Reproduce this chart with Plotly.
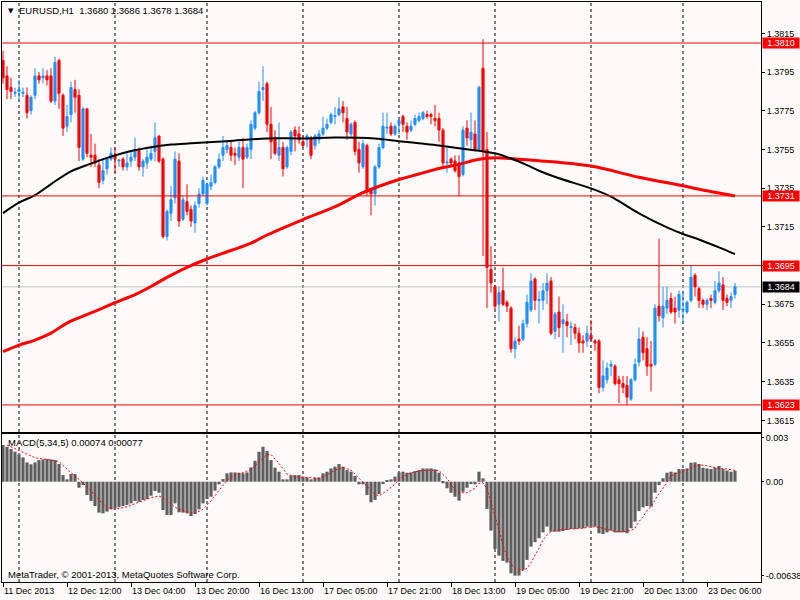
import pandas as pd
import plotly.graph_objects as go

# EURUSD H1, 11-23 Dec 2013
sessions = [("2013-12-11 20:00", "2013-12-13 22:00"),
            ("2013-12-16 00:00", "2013-12-20 22:00"),
            ("2013-12-23 00:00", "2013-12-23 13:00")]
times = pd.DatetimeIndex([t for a, b in sessions for t in pd.date_range(a, b, freq="h")])

opens = [1.3801, 1.3793, 1.3787, 1.3784, 1.3785, 1.3784, 1.3783, 1.3775, 1.3783, 1.3793,
         1.3792, 1.3793, 1.3793, 1.3780, 1.3801, 1.3783, 1.3767, 1.3773, 1.3786, 1.3783,
         1.3750, 1.3776, 1.3752, 1.3752, 1.3747, 1.3739, 1.3745, 1.3750, 1.3752, 1.3749,
         1.3750, 1.3746, 1.3749, 1.3751, 1.3755, 1.3746, 1.3748, 1.3750, 1.3754, 1.3762,
         1.3750, 1.3710, 1.3722, 1.3730, 1.3749, 1.3719, 1.3728, 1.3724, 1.3717, 1.3727,
         1.3732, 1.3727, 1.3736, 1.3738, 1.3746, 1.3752, 1.3755, 1.3756, 1.3753, 1.3751,
         1.3756, 1.3751, 1.3755, 1.3766, 1.3774, 1.3786, 1.3789, 1.3768, 1.3761, 1.3752,
         1.3756, 1.3746, 1.3754, 1.3765, 1.3763, 1.3759, 1.3760, 1.3761, 1.3757, 1.3760,
         1.3763, 1.3766, 1.3769, 1.3772, 1.3773, 1.3777, 1.3771, 1.3763, 1.3769, 1.3755,
         1.3746, 1.3757, 1.3734, 1.3732, 1.3746, 1.3756, 1.3766, 1.3767, 1.3763, 1.3768,
         1.3772, 1.3767, 1.3765, 1.3768, 1.3770, 1.3771, 1.3773, 1.3773, 1.3771, 1.3771,
         1.3765, 1.3748, 1.3750, 1.3749, 1.3748, 1.3742, 1.3766, 1.3760, 1.3763, 1.3755,
         1.3797, 1.3755, 1.3693, 1.3684, 1.3675, 1.3682, 1.3676, 1.3673, 1.3652, 1.3657,
         1.3657, 1.3665, 1.3672, 1.3688, 1.3677, 1.3677, 1.3682, 1.3687, 1.3661, 1.3671,
         1.3665, 1.3666, 1.3663, 1.3663, 1.3660, 1.3656, 1.3656, 1.3659, 1.3656, 1.3656,
         1.3632, 1.3636, 1.3643, 1.3643, 1.3636, 1.3634, 1.3633, 1.3626, 1.3636, 1.3645,
         1.3658, 1.3652, 1.3644, 1.3644, 1.3674, 1.3668, 1.3673, 1.3678, 1.3673, 1.3672,
         1.3672, 1.3671, 1.3677, 1.3690, 1.3683, 1.3677, 1.3675, 1.3678, 1.3676, 1.3682,
         1.3685, 1.3678, 1.3677, 1.3680]
highs = [1.3806, 1.3798, 1.3792, 1.3787, 1.3791, 1.3787, 1.3787, 1.3783, 1.3797, 1.3795,
         1.3797, 1.3796, 1.3797, 1.3803, 1.3802, 1.3784, 1.3778, 1.3790, 1.3791, 1.3786,
         1.3777, 1.3776, 1.3763, 1.3758, 1.3750, 1.3750, 1.3751, 1.3756, 1.3756, 1.3750,
         1.3751, 1.3753, 1.3754, 1.3761, 1.3756, 1.3750, 1.3755, 1.3757, 1.3769, 1.3762,
         1.3751, 1.3724, 1.3736, 1.3754, 1.3753, 1.3731, 1.3737, 1.3726, 1.3728, 1.3735,
         1.3741, 1.3738, 1.3742, 1.3747, 1.3753, 1.3762, 1.3760, 1.3759, 1.3756, 1.3759,
         1.3761, 1.3758, 1.3770, 1.3775, 1.3790, 1.3798, 1.3790, 1.3777, 1.3765, 1.3769,
         1.3759, 1.3757, 1.3765, 1.3767, 1.3767, 1.3762, 1.3763, 1.3762, 1.3763, 1.3765,
         1.3772, 1.3771, 1.3774, 1.3777, 1.3782, 1.3780, 1.3777, 1.3769, 1.3770, 1.3759,
         1.3760, 1.3758, 1.3735, 1.3747, 1.3758, 1.3774, 1.3774, 1.3769, 1.3768, 1.3772,
         1.3773, 1.3769, 1.3770, 1.3773, 1.3774, 1.3775, 1.3775, 1.3774, 1.3778, 1.3774,
         1.3766, 1.3756, 1.3751, 1.3752, 1.3752, 1.3767, 1.3770, 1.3774, 1.3770, 1.3788,
         1.3812, 1.3764, 1.3705, 1.3685, 1.3684, 1.3694, 1.3677, 1.3674, 1.3658, 1.3664,
         1.3667, 1.3680, 1.3691, 1.3689, 1.3682, 1.3686, 1.3691, 1.3689, 1.3671, 1.3679,
         1.3675, 1.3670, 1.3666, 1.3665, 1.3663, 1.3659, 1.3664, 1.3667, 1.3657, 1.3657,
         1.3646, 1.3645, 1.3646, 1.3644, 1.3638, 1.3638, 1.3638, 1.3637, 1.3647, 1.3663,
         1.3661, 1.3658, 1.3656, 1.3675, 1.3709, 1.3684, 1.3684, 1.3681, 1.3679, 1.3682,
         1.3682, 1.3677, 1.3695, 1.3691, 1.3684, 1.3678, 1.3678, 1.3680, 1.3687, 1.3692,
         1.3689, 1.3680, 1.3681, 1.3686]
lows = [1.3789, 1.3781, 1.3781, 1.3782, 1.3780, 1.3782, 1.3771, 1.3773, 1.3781, 1.3789,
        1.3789, 1.3788, 1.3779, 1.3778, 1.3776, 1.3762, 1.3764, 1.3769, 1.3774, 1.3749,
        1.3749, 1.3751, 1.3746, 1.3746, 1.3735, 1.3737, 1.3742, 1.3749, 1.3743, 1.3746,
        1.3744, 1.3744, 1.3746, 1.3749, 1.3744, 1.3741, 1.3745, 1.3749, 1.3749, 1.3748,
        1.3709, 1.3708, 1.3718, 1.3727, 1.3715, 1.3718, 1.3721, 1.3715, 1.3712, 1.3725,
        1.3731, 1.3726, 1.3734, 1.3737, 1.3745, 1.3749, 1.3753, 1.3749, 1.3747, 1.3749,
        1.3735, 1.3750, 1.3750, 1.3765, 1.3773, 1.3780, 1.3764, 1.3750, 1.3752, 1.3749,
        1.3741, 1.3745, 1.3752, 1.3754, 1.3758, 1.3756, 1.3756, 1.3750, 1.3755, 1.3758,
        1.3762, 1.3765, 1.3768, 1.3768, 1.3772, 1.3769, 1.3760, 1.3761, 1.3752, 1.3743,
        1.3745, 1.3731, 1.3721, 1.3726, 1.3745, 1.3755, 1.3763, 1.3762, 1.3762, 1.3763,
        1.3764, 1.3760, 1.3764, 1.3767, 1.3769, 1.3770, 1.3771, 1.3768, 1.3767, 1.3759,
        1.3746, 1.3743, 1.3746, 1.3743, 1.3731, 1.3741, 1.3757, 1.3755, 1.3754, 1.3754,
        1.3700, 1.3673, 1.3681, 1.3672, 1.3666, 1.3674, 1.3671, 1.3650, 1.3647, 1.3654,
        1.3656, 1.3663, 1.3671, 1.3672, 1.3665, 1.3672, 1.3675, 1.3659, 1.3657, 1.3658,
        1.3650, 1.3658, 1.3654, 1.3657, 1.3650, 1.3650, 1.3653, 1.3656, 1.3651, 1.3629,
        1.3630, 1.3634, 1.3638, 1.3633, 1.3624, 1.3629, 1.3623, 1.3625, 1.3635, 1.3643,
        1.3646, 1.3638, 1.3630, 1.3643, 1.3666, 1.3663, 1.3670, 1.3670, 1.3665, 1.3668,
        1.3665, 1.3670, 1.3676, 1.3679, 1.3673, 1.3673, 1.3672, 1.3673, 1.3675, 1.3681,
        1.3672, 1.3674, 1.3673, 1.3678]
closes = [1.3792, 1.3786, 1.3785, 1.37845, 1.3786, 1.37845, 1.3774, 1.3782, 1.3793, 1.3791,
          1.3793, 1.3791, 1.3780, 1.3800, 1.3784, 1.3766, 1.3772, 1.3787, 1.3782, 1.3756,
          1.3776, 1.3753, 1.3751, 1.3748, 1.3738, 1.3744, 1.3750, 1.3753, 1.3750, 1.37495,
          1.3746, 1.3748, 1.3751, 1.3755, 1.3746, 1.3749, 1.3751, 1.3753, 1.3761, 1.3749,
          1.3710, 1.3723, 1.3729, 1.3750, 1.3718, 1.3729, 1.3723, 1.3718, 1.3726, 1.3732,
          1.3739, 1.3737, 1.3738, 1.3746, 1.3750, 1.3756, 1.3757, 1.3752, 1.3752, 1.3756,
          1.3750, 1.3756, 1.3768, 1.3774, 1.3785, 1.3787, 1.3768, 1.3759, 1.3753, 1.3756,
          1.3745, 1.3756, 1.3764, 1.3762, 1.3760, 1.3757, 1.3762, 1.3752, 1.3762, 1.3763,
          1.3766, 1.3768, 1.3773, 1.37725, 1.3776, 1.3774, 1.3764, 1.3768, 1.3754, 1.3748,
          1.3758, 1.3734, 1.3732, 1.3746, 1.3756, 1.3767, 1.37665, 1.3763, 1.3767, 1.3770,
          1.3768, 1.3764, 1.3767, 1.3771, 1.3772, 1.3774, 1.3772, 1.3772, 1.3770, 1.3765,
          1.3748, 1.37485, 1.3748, 1.3744, 1.3741, 1.3765, 1.3761, 1.3764, 1.3755, 1.3787,
          1.3754, 1.3694, 1.3686, 1.3674, 1.3681, 1.3675, 1.3674, 1.3652, 1.3656, 1.3656,
          1.3665, 1.3676, 1.3687, 1.3677, 1.36775, 1.3682, 1.3686, 1.3660, 1.3670, 1.3663,
          1.3667, 1.3664, 1.36635, 1.3660, 1.3655, 1.3655, 1.3660, 1.3657, 1.3655, 1.3632,
          1.3638, 1.3642, 1.3644, 1.3634, 1.3634, 1.3632, 1.3627, 1.3636, 1.3644, 1.3657,
          1.3650, 1.3643, 1.3643, 1.3673, 1.3669, 1.3674, 1.3677, 1.3671, 1.3671, 1.3680,
          1.36725, 1.3676, 1.3689, 1.3684, 1.3677, 1.3675, 1.3677, 1.3677, 1.3682, 1.3686,
          1.3677, 1.3676, 1.3679, 1.3684]

# moving averages, read at sample bars
ma_black_bar = [0, 4, 8, 12, 17, 22, 27, 32, 37, 42, 47, 56, 66, 75, 83, 93, 99, 104, 109,
                114, 119, 123, 127, 131, 134, 139, 147, 152, 159, 166, 170, 174, 179, 183]
ma_black = [1.37221, 1.37275, 1.37314, 1.37371, 1.37437, 1.37477, 1.37513, 1.37542, 1.37562,
            1.37575, 1.37582, 1.37593, 1.37607, 1.37607, 1.37612, 1.37607, 1.37593, 1.37582,
            1.37571, 1.37556, 1.37543, 1.37530, 1.37503, 1.37469, 1.37440, 1.37401, 1.37349,
            1.37306, 1.37220, 1.37147, 1.37113, 1.37085, 1.37044, 1.37009]
ma_red_bar = [0, 4, 8, 12, 16, 22, 28, 33, 37, 41, 46, 51, 57, 62, 66, 75, 83, 90, 99, 104,
              109, 114, 119, 123, 129, 134, 147, 159, 170, 174, 183]
ma_red = [1.36505, 1.36539, 1.36565, 1.36601, 1.36653, 1.36705, 1.36758, 1.36800, 1.36842,
          1.36889, 1.36941, 1.36984, 1.37028, 1.37066, 1.37108, 1.37188, 1.37254, 1.37327,
          1.37395, 1.37423, 1.37452, 1.37473, 1.37499, 1.37507, 1.37500, 1.37492, 1.37464,
          1.37406, 1.37362, 1.37344, 1.37309]

# MACD(5,34,5)
macd_main = [0.00249, 0.00237, 0.00221, 0.00204, 0.00185, 0.00165, 0.00131, 0.00118, 0.00131, 0.00147,
             0.00151, 0.00154, 0.00151, 0.00147, 0.00120, 0.00045, 0.00016, 0.00052, 0.00052, -0.00041,
             -0.00023, -0.00090, -0.00131, -0.00165, -0.00210, -0.00215, -0.00203, -0.00188, -0.00181, -0.00174,
             -0.00165, -0.00158, -0.00147, -0.00131, -0.00136, -0.00124, -0.00118, -0.00095, -0.00063, -0.00075,
             -0.00192, -0.00226, -0.00226, -0.00147, -0.00208, -0.00210, -0.00215, -0.00233, -0.00219, -0.00188,
             -0.00147, -0.00118, -0.00102, -0.00061, -0.00018, 0.00018, 0.00057, 0.00063, 0.00063, 0.00061,
             0.00057, 0.00063, 0.00097, 0.00142, 0.00203, 0.00237, 0.00208, 0.00147, 0.00095, 0.00068,
             0.00016, 0.00016, 0.00041, 0.00045, 0.00045, 0.00034, 0.00029, 0.00016, 0.00027, 0.00029,
             0.00057, 0.00068, 0.00090, 0.00102, 0.00120, 0.00102, 0.00079, 0.00068, 0.00038, -0.00018,
             -0.00018, -0.00090, -0.00140, -0.00124, -0.00084, -0.00016, 0.00011, 0.00016, 0.00034, 0.00063,
             0.00068, 0.00061, 0.00063, 0.00072, 0.00079, 0.00090, 0.00090, 0.00090, 0.00084, 0.00061,
             -0.00011, -0.00045, -0.00075, -0.00102, -0.00129, -0.00068, -0.00041, -0.00016, -0.00018, 0.00068,
             0.00023, -0.00185, -0.00332, -0.00457, -0.00502, -0.00538, -0.00549, -0.00622, -0.00638, -0.00637,
             -0.00599, -0.00531, -0.00441, -0.00411, -0.00384, -0.00344, -0.00305, -0.00339, -0.00339, -0.00339,
             -0.00335, -0.00328, -0.00321, -0.00321, -0.00316, -0.00316, -0.00305, -0.00301, -0.00305, -0.00350,
             -0.00355, -0.00344, -0.00332, -0.00344, -0.00344, -0.00344, -0.00350, -0.00316, -0.00271, -0.00199,
             -0.00174, -0.00165, -0.00170, -0.00075, -0.00023, 0.00023, 0.00061, 0.00068, 0.00063, 0.00086,
             0.00086, 0.00090, 0.00129, 0.00131, 0.00120, 0.00095, 0.00090, 0.00086, 0.00095, 0.00106,
             0.00086, 0.00075, 0.00068, 0.00074]
signal_bar = [1, 4, 8, 12, 14, 17, 19, 22, 24, 26, 28, 31, 34, 37, 39, 41, 43, 45, 48, 50,
              52, 54, 56, 58, 60, 62, 64, 66, 67, 69, 71, 73, 76, 79, 81, 83, 85, 87, 89, 91,
              93, 94, 96, 98, 99, 101, 103, 106, 108, 109, 111, 113, 114, 116, 118, 119, 120, 121, 122, 123,
              124, 125, 126, 127, 128, 129, 130, 131, 132, 133, 134, 135, 136, 137, 139, 141, 143, 145, 147, 149,
              151, 153, 155, 157, 158, 159, 160, 161, 162, 163, 164, 165, 166, 167, 169, 171, 173, 175, 177, 179,
              181, 183]
signal = [0.00249, 0.00210, 0.00163, 0.00147, 0.00136, 0.00061, 0.00016, -0.00061, -0.00124, -0.00174,
          -0.00188, -0.00170, -0.00140, -0.00108, -0.00097, -0.00124, -0.00174, -0.00199, -0.00215, -0.00188,
          -0.00131, -0.00057, 0.00011, 0.00045, 0.00061, 0.00084, 0.00136, 0.00185, 0.00185, 0.00124,
          0.00052, 0.00034, 0.00029, 0.00023, 0.00045, 0.00079, 0.00097, 0.00079, 0.00023, -0.00029,
          -0.00084, -0.00097, -0.00061, -0.00016, 0.00016, 0.00050, 0.00068, 0.00079, 0.00079, 0.00075,
          0.00023, -0.00057, -0.00075, -0.00075, -0.00045, -0.00011, -0.00007, -0.00050, -0.00136, -0.00233,
          -0.00339, -0.00429, -0.00509, -0.00558, -0.00588, -0.00599, -0.00603, -0.00588, -0.00549, -0.00504,
          -0.00452, -0.00396, -0.00362, -0.00339, -0.00328, -0.00323, -0.00319, -0.00316, -0.00305, -0.00310,
          -0.00323, -0.00339, -0.00339, -0.00332, -0.00316, -0.00271, -0.00237, -0.00199, -0.00170, -0.00124,
          -0.00079, -0.00045, 0.00000, 0.00038, 0.00063, 0.00079, 0.00108, 0.00113, 0.00102, 0.00090,
          0.00086, 0.00077]

levels = [1.3810, 1.3731, 1.3695, 1.3623]
bid = closes[-1]
price_ticks = [1.3615, 1.3635, 1.3655, 1.3675, 1.3695, 1.3715, 1.3735, 1.3755, 1.3775, 1.3795, 1.3815]
macd_ticks = [0.003, 0.0, -0.00638]
macd_ticktext = ["0.003", "0.00", "-0.00638"]

bars = list(range(len(times)))
label_bars = bars[::16]
label_text = ["11 Dec 2013" if i == 0 else f"{times[i].day} {times[i]:%b %H:%M}" for i in label_bars]
day_starts = [i for i in bars[1:] if times[i].date() != times[i - 1].date()]

BG = "#FFFAFA"
BLUE = "#1E90FF"
RED = "#FF0000"
FONT = dict(family="Liberation Sans", size=9.5, color="black")
AXFONT = dict(family="Liberation Sans", size=9, color="black")

fig = go.Figure()
fig.add_trace(go.Candlestick(
    x=bars, open=opens, high=highs, low=lows, close=closes,
    increasing=dict(line=dict(color=BLUE, width=1), fillcolor=BLUE),
    decreasing=dict(line=dict(color=RED, width=1), fillcolor=RED),
    whiskerwidth=0, hoverinfo="skip", xaxis="x", yaxis="y"))
fig.add_trace(go.Scatter(x=ma_red_bar, y=ma_red, mode="lines", line_shape="spline",
                         line=dict(color=RED, width=3), xaxis="x", yaxis="y"))
fig.add_trace(go.Scatter(x=ma_black_bar, y=ma_black, mode="lines", line_shape="spline",
                         line=dict(color="black", width=2), xaxis="x", yaxis="y"))
fig.add_trace(go.Bar(x=bars, y=macd_main, marker=dict(color="#5F5F5F", line=dict(width=0)),
                     xaxis="x2", yaxis="y2"))
fig.add_trace(go.Scatter(x=signal_bar, y=signal, mode="lines",
                         line=dict(color=RED, width=1, dash="2px,2px"), xaxis="x2", yaxis="y2"))

x_dom = [2 / 800, 761 / 800]
axis_common = dict(showgrid=False, zeroline=False, showline=True, mirror=True, automargin=False,
                   linecolor="black", linewidth=1, tickfont=AXFONT, tickcolor="black")

# day separators across both panels, price levels and the bid line
for i in day_starts:
    fig.add_shape(type="line", xref="x", yref="paper", x0=i, x1=i, y0=0.03, y1=1 - 2 / 600,
                  line=dict(color="black", width=1, dash="3px,3px"), layer="below")
for lv in levels:
    fig.add_shape(type="line", xref="paper", yref="y", x0=x_dom[0], x1=x_dom[1], y0=lv, y1=lv,
                  line=dict(color=RED, width=1))
fig.add_shape(type="line", xref="paper", yref="y", x0=x_dom[0], x1=x_dom[1], y0=bid, y1=bid,
              line=dict(color="#C0C0C0", width=1), layer="below")

for lv in levels:
    fig.add_annotation(xref="paper", yref="y", x=761.5 / 800, y=lv, xanchor="left", yanchor="middle",
                       text=f"{lv:.4f}", showarrow=False, bgcolor=RED, width=36, height=10,
                       borderpad=0, font=dict(family="Liberation Sans", size=9, color="white"))
fig.add_annotation(xref="paper", yref="y", x=761.5 / 800, y=bid, xanchor="left", yanchor="middle",
                   text=f"{bid:.4f}", showarrow=False, bgcolor="black", width=36, height=10,
                   borderpad=0, font=dict(family="Liberation Sans", size=9, color="white"))

fig.add_annotation(xref="paper", yref="paper", x=6 / 800, y=1 - 11 / 600, xanchor="left",
                   yanchor="middle", text="▼", showarrow=False,
                   font=dict(family="DejaVu Sans", size=7, color="black"))
fig.add_annotation(xref="paper", yref="paper", x=17 / 800, y=1 - 11 / 600, xanchor="left",
                   yanchor="middle", showarrow=False, font=FONT,
                   text=f"EURUSD,H1  {opens[-1]:.4f} {highs[-1]:.4f} {lows[-1]:.4f} {closes[-1]:.4f}")
fig.add_annotation(xref="paper", yref="paper", x=6 / 800, y=1 - 442 / 600, xanchor="left",
                   yanchor="middle", showarrow=False, font=FONT,
                   text=f"MACD(5,34,5) {macd_main[-1]:.5f} {signal[-1]:.5f}")
fig.add_annotation(xref="paper", yref="paper", x=6 / 800, y=1 - 574.5 / 600, xanchor="left",
                   yanchor="middle", showarrow=False, font=FONT,
                   text="MetaTrader, © 2001-2013, MetaQuotes Software Corp.")

fig.update_layout(
    width=800, height=600, margin=dict(l=0, r=0, t=0, b=0, autoexpand=False),
    paper_bgcolor=BG, plot_bgcolor=BG, showlegend=False,
    bargap=0.2, boxgap=0.25, hovermode=False,
    xaxis=dict(domain=x_dom, range=[-0.25, 189.5], anchor="y", showticklabels=False,
               ticks="", rangeslider=dict(visible=False), **axis_common),
    xaxis2=dict(domain=x_dom, matches="x", anchor="y2", tickvals=label_bars, ticktext=label_text,
                ticks="outside", ticklen=4, tickangle=0, ticklabelposition="outside right",
                **axis_common),
    yaxis=dict(domain=[1 - 432 / 600, 1 - 2 / 600], range=[1.36090, 1.38312], side="right",
               anchor="x", tickvals=price_ticks, ticktext=[f"{v:.4f}" for v in price_ticks],
               ticks="outside", ticklen=3, **axis_common),
    yaxis2=dict(domain=[1 - 582 / 600, 1 - 434 / 600], range=[-0.006809, 0.003238], side="right",
                anchor="x2", tickvals=macd_ticks, ticktext=macd_ticktext,
                ticks="outside", ticklen=2, **axis_common),
)

# the page body has a default 8px margin; drop it so the figure sits at the window's corner
fig.write_html("out.html", config={"displayModeBar": False},
               post_script="document.body.style.margin='0';")
